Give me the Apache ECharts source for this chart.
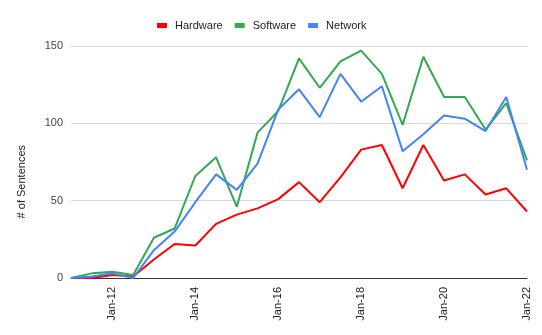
<!DOCTYPE html>
<html style="height: 100%">
  <head>
    <meta charset="utf-8">
  </head>
  <body style="height: 100%; margin: 0">
    <div id="container" style="width: 542px; height: 335px"></div>
    <script type="text/javascript" src="https://cdn.jsdelivr.net/npm/echarts@6/dist/echarts.min.js"></script>
    <script type="text/javascript">
      // half-year steps, Jan-11 .. Jan-22
      let periods = [
        'Jan-11', 'Jul-11', 'Jan-12', 'Jul-12', 'Jan-13', 'Jul-13', 'Jan-14', 'Jul-14',
        'Jan-15', 'Jul-15', 'Jan-16', 'Jul-16', 'Jan-17', 'Jul-17', 'Jan-18', 'Jul-18',
        'Jan-19', 'Jul-19', 'Jan-20', 'Jul-20', 'Jan-21', 'Jul-21', 'Jan-22'
      ];
      let hardware = [0, 0, 2, 1, 12, 22, 21, 35, 41, 45, 51, 62, 49, 65, 83, 86, 58, 86, 63, 67, 54, 58, 43];
      let software = [0, 3, 4, 2, 26, 32, 66, 78, 46, 94, 108, 142, 123, 140, 147, 132, 99, 143, 117, 117, 96, 113, 76];
      let network = [0, 1, 3, 0, 18, 30, 49, 67, 57, 74, 109, 122, 104, 132, 114, 124, 82, 93, 105, 103, 95, 117, 70];
      let yTicks = [0, 50, 100, 150];

      let dom = document.getElementById('container');
      let myChart = echarts.init(dom);

      function line(name, data, color) {
        return {
          name: name,
          type: 'line',
          data: data,
          symbol: 'none',
          lineStyle: { width: 2, color: color },
          itemStyle: { color: color }
        };
      }

      let option = {
        animation: false,
        textStyle: { fontFamily: 'Liberation Sans, Arial, sans-serif' },
        legend: {
          top: 15,
          left: 152,
          itemWidth: 10,
          itemHeight: 5,
          itemGap: 12,
          icon: 'rect',
          textStyle: { fontSize: 11, color: '#222', padding: [0, 0, 0, 3] },
          data: ['Hardware', 'Software', 'Network']
        },
        grid: { left: 71, right: 15, top: 46, bottom: 57 },
        xAxis: {
          type: 'category',
          data: periods,
          boundaryGap: false,
          axisLine: { lineStyle: { color: '#333', width: 1 } },
          axisTick: { show: false },
          axisLabel: {
            rotate: 90,
            fontSize: 11,
            color: '#222',
            margin: 9,
            interval: function (i) { return i % 4 === 2; }
          }
        },
        yAxis: {
          type: 'value',
          min: yTicks[0],
          max: yTicks[yTicks.length - 1],
          interval: 50,
          axisLine: { show: false },
          axisTick: { show: false },
          axisLabel: { fontSize: 11, color: '#444', margin: 8 },
          splitLine: { lineStyle: { color: '#d9d9d9', width: 1 } }
        },
        graphic: [{
          type: 'text',
          left: 16,
          top: 145,
          rotation: Math.PI / 2,
          style: {
            text: '# of Sentences',
            font: '11px Liberation Sans, Arial, sans-serif',
            fill: '#222'
          }
        }],
        series: [
          line('Hardware', hardware, '#ff0000'),
          line('Software', software, '#34a853'),
          line('Network', network, '#4285f4')
        ]
      };

      myChart.setOption(option);
    </script>
  </body>
</html>
